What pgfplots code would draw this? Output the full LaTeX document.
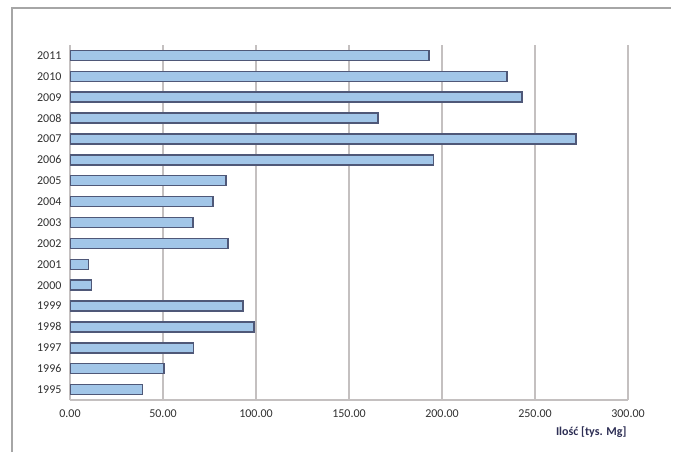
\documentclass[border=0pt]{standalone}
\usepackage{pgfplots}
\pgfplotsset{compat=1.18}
\usepackage{fontspec}
\setmainfont{Carlito}
\definecolor{barfill}{HTML}{A2C6E8}
\definecolor{barline}{HTML}{4F5878}
\definecolor{gridc}{HTML}{C4C0C0}
\definecolor{tickc}{HTML}{303030}
\definecolor{labc}{HTML}{2E2F55}
\begin{document}
\begin{tikzpicture}[x=1pt,y=1pt]
\path[use as bounding box] (0,0) rectangle (676,452);
\draw[line width=2.5pt, color=gray!70] (12,0) -- (12,444) -- (671,444);
\begin{axis}[
  at={(70pt,52pt)}, anchor=south west,
  scale only axis, width=558pt, height=355pt,
  xmin=0, xmax=300, ymin=1994.5, ymax=2011.5,
  xtick={0,50,...,300}, ytick={1995,...,2011},
  xmajorgrids, grid style={gridc, line width=1.2pt},
  axis x line*=bottom, axis y line*=left,
  axis line style={gridc, line width=1.2pt},
  major tick length=0pt,
  /pgf/number format/assume math mode=true,
  xticklabel style={/pgf/number format/fixed, /pgf/number format/fixed zerofill, /pgf/number format/precision=2, /pgf/number format/1000 sep={}, yshift=-6pt},
  yticklabel style={/pgf/number format/1000 sep={}, xshift=-5pt},
  tick label style={font=\fontsize{12}{14}\selectfont, text=tickc},
  xbar, bar width=10pt, bar shift=0pt,
]
\addplot[fill=barfill, draw=barline, line width=1.5pt] coordinates {
(39,1995) (50.5,1996) (66.5,1997) (99,1998) (93,1999) (11.5,2000) (10,2001)
(85,2002) (66,2003) (77,2004) (84,2005) (195.5,2006) (272,2007) (165.5,2008)
(243,2009) (235,2010) (193,2011)
};
\end{axis}
\node[anchor=east, text=labc, font=\fontsize{12}{14}\selectfont\bfseries] at (630,20) {Ilość [tys. Mg]};
\end{tikzpicture}
\end{document}
